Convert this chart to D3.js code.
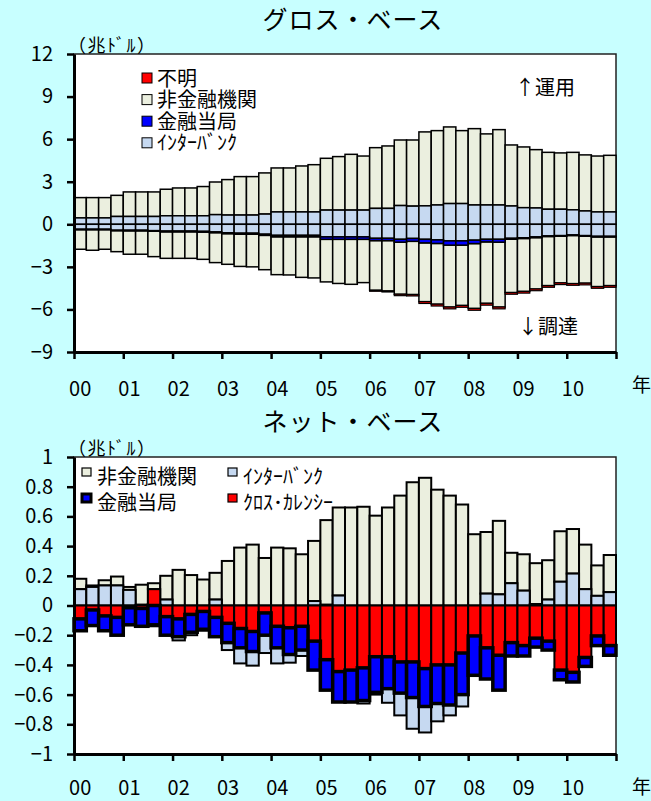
<!DOCTYPE html>
<html>
<head>
<meta charset="utf-8">
<script src="https://cdn.jsdelivr.net/npm/d3@7"></script>
<style>
  html, body { margin: 0; padding: 0; background: #c8ffff; }
  svg { display: block; }
  text { font-family: "Noto Sans CJK JP", "Noto Sans", sans-serif; fill: #000; }
</style>
</head>
<body>
<svg id="chart" width="651" height="801"></svg>
<script>
// ---- categories: quarterly, 2000Q1 .. 2010Q4 ----
const years = ["00", "01", "02", "03", "04", "05", "06", "07", "08", "09", "10"];
const quarters = years.flatMap(y => ["Q1", "Q2", "Q3", "Q4"].map(q => y + q));

// ---- gross basis (trillion USD): assets (+) and liabilities (-) ----
const grossAssetInterbank = [0.45,0.45,0.45,0.55,0.55,0.55,0.55,0.6,0.6,0.6,0.6,0.68,0.65,0.65,0.65,0.72,0.87,0.87,0.87,0.87,1.0,1.0,1.0,1.0,1.12,1.12,1.32,1.28,1.3,1.36,1.46,1.46,1.36,1.36,1.36,1.29,1.17,1.15,1.06,1.06,1.02,0.94,0.87,0.87];
const grossAssetNonFin = [1.43,1.43,1.43,1.49,1.73,1.73,1.73,1.87,1.96,1.96,2.06,2.30,2.50,2.71,2.71,2.90,3.10,3.10,3.24,3.33,3.65,3.77,3.93,3.81,4.28,4.40,4.62,4.66,5.21,5.24,5.40,5.14,5.38,5.01,5.31,4.30,4.28,4.11,4.01,3.97,4.05,3.95,3.94,3.99];
const grossLiabInterbank = [-0.35,-0.35,-0.35,-0.42,-0.42,-0.42,-0.45,-0.48,-0.48,-0.48,-0.5,-0.54,-0.6,-0.63,-0.63,-0.7,-0.78,-0.78,-0.78,-0.78,-0.89,-0.89,-0.89,-0.89,-0.99,-0.99,-1.06,-1.0,-1.06,-1.1,-1.17,-1.17,-1.12,-1.06,-1.06,-0.99,-0.95,-0.89,-0.82,-0.8,-0.75,-0.8,-0.85,-0.85];
const grossLiabAuthority = [-0.03,-0.03,-0.03,-0.03,-0.04,-0.04,-0.04,-0.05,-0.05,-0.05,-0.05,-0.05,-0.06,-0.07,-0.07,-0.08,-0.1,-0.1,-0.1,-0.1,-0.17,-0.17,-0.17,-0.17,-0.16,-0.16,-0.2,-0.2,-0.25,-0.25,-0.3,-0.3,-0.24,-0.18,-0.2,-0.06,-0.05,-0.05,-0.04,-0.04,-0.04,-0.04,-0.04,-0.04];
const grossLiabNonFin = [-1.38,-1.45,-1.38,-1.48,-1.65,-1.65,-1.79,-1.87,-1.87,-1.87,-1.92,-2.11,-2.16,-2.27,-2.30,-2.42,-2.67,-2.69,-2.86,-2.90,-3.00,-3.11,-3.17,-3.05,-3.50,-3.55,-3.67,-3.75,-4.14,-4.28,-4.36,-4.25,-4.57,-4.33,-4.57,-3.76,-3.73,-3.62,-3.46,-3.29,-3.39,-3.31,-3.50,-3.43];
const grossLiabUnknown = [0,0,0,0,0,0,0,0,0,0,0,0,0,0,0,0,0,0,0,0,0,0,0,0,-0.07,-0.07,-0.1,-0.1,-0.13,-0.13,-0.13,-0.13,-0.13,-0.13,-0.13,-0.12,-0.12,-0.12,-0.12,-0.12,-0.12,-0.12,-0.12,-0.12];

// ---- net basis (trillion USD) ----
const netCross = [-0.09,-0.03,-0.07,-0.08,-0.015,-0.02,0.11,-0.075,-0.09,-0.06,-0.04,-0.08,-0.12,-0.155,-0.175,-0.05,-0.14,-0.15,-0.14,-0.24,-0.365,-0.445,-0.435,-0.42,-0.345,-0.345,-0.38,-0.38,-0.425,-0.4,-0.4,-0.32,-0.205,-0.285,-0.335,-0.25,-0.27,-0.22,-0.24,-0.435,-0.45,-0.35,-0.205,-0.27];
const netAuthority = [-0.08,-0.105,-0.1,-0.12,-0.115,-0.12,-0.13,-0.125,-0.12,-0.12,-0.12,-0.13,-0.13,-0.13,-0.135,-0.15,-0.145,-0.18,-0.16,-0.195,-0.205,-0.205,-0.215,-0.22,-0.24,-0.215,-0.21,-0.24,-0.255,-0.26,-0.27,-0.28,-0.265,-0.21,-0.235,-0.09,-0.07,-0.06,-0.06,-0.065,-0.065,-0.06,-0.065,-0.065];
const netInterbank = [0.11,0.125,0.135,0.135,0.105,0.005,-0.01,0.04,-0.025,-0.02,-0.01,0.04,-0.05,-0.105,-0.095,-0.12,-0.105,-0.055,-0.04,0.03,0.005,0.067,0,-0.02,-0.015,-0.095,-0.15,-0.21,-0.175,-0.12,-0.07,-0.08,0,0.08,0.075,0.15,0.1,0.01,0.04,0.16,0.215,0.11,0.065,0.09];
const netNonFin = [0.07,0.01,0.035,0.06,0.02,0.135,0.04,0.16,0.24,0.205,0.175,0.18,0.30,0.39,0.41,0.32,0.39,0.385,0.345,0.405,0.57,0.593,0.66,0.665,0.605,0.66,0.74,0.83,0.86,0.78,0.74,0.68,0.48,0.415,0.495,0.205,0.245,0.275,0.265,0.34,0.3,0.3,0.205,0.25];

// ---- tick labels ----
const grossTicks = [12, 9, 6, 3, 0, -3, -6, -9];
const netTicks = [1, 0.8, 0.6, 0.4, 0.2, 0, -0.2, -0.4, -0.6, -0.8, -1];

const COL = { nonfin: "#ebefdf", interbank: "#c6d9f1", authority: "#0000ff", red: "#ff0000" };

const svg = d3.select("#chart");
const L = 74, R = 616;

function drawPanel(cfg) {
  const g = svg.append("g");
  const x = d3.scaleBand().domain(quarters).range([L, R]).padding(0);
  const y = d3.scaleLinear().domain(cfg.domain).range([cfg.bottom, cfg.top]);

  // plot area
  g.append("rect")
    .attr("x", L).attr("y", cfg.top)
    .attr("width", R - L).attr("height", cfg.bottom - cfg.top)
    .attr("fill", "#fff").attr("stroke", "#222").attr("stroke-width", 1.5);

  // stacked bars (positives and negatives stacked separately)
  const rows = quarters.map((q, i) => {
    const r = { q };
    cfg.series.forEach(s => { r[s.key] = s.values[i]; });
    return r;
  });
  const layers = d3.stack()
    .keys(cfg.series.map(s => s.key))
    .offset(d3.stackOffsetDiverging)(rows);
  const byKey = {};
  layers.forEach(l => { byKey[l.key] = l; });

  cfg.drawOrder.forEach(key => {
    const s = cfg.series.find(t => t.key === key);
    const layer = byKey[key];
    g.append("g").selectAll("rect")
      .data(layer.filter(d => d[1] !== d[0]))
      .join("rect")
      .attr("x", d => x(d.data.q))
      .attr("width", x.bandwidth())
      .attr("y", d => y(d[1]))
      .attr("height", d => y(d[0]) - y(d[1]))
      .attr("fill", s.fill)
      .attr("stroke", "#000")
      .attr("stroke-width", s.sw);
  });

  // y axis
  const yAxis = g.append("g").attr("transform", `translate(${L},0)`)
    .call(d3.axisLeft(y).tickValues(cfg.ticks).tickFormat(d3.format("~g"))
      .tickSize(7).tickSizeOuter(0).tickPadding(14));
  yAxis.select(".domain").attr("stroke", "#000").attr("stroke-width", 3);
  yAxis.selectAll(".tick line").attr("stroke", "#000").attr("stroke-width", 2.5);
  yAxis.selectAll("text").attr("font-size", 20).attr("fill", "#000");

  // x axis: year boundaries
  const xb = d3.scaleLinear().domain([0, quarters.length]).range([L, R]);
  const xAxis = g.append("g").attr("transform", `translate(0,${cfg.bottom})`)
    .call(d3.axisBottom(xb).tickValues(d3.range(0, quarters.length + 1, 4))
      .tickFormat("").tickSize(7).tickSizeOuter(0));
  xAxis.select(".domain").attr("stroke", "#000").attr("stroke-width", 3);
  xAxis.selectAll(".tick line").attr("stroke", "#000").attr("stroke-width", 2.5);

  // x axis: year labels under the first quarter
  const xl = g.append("g").attr("transform", `translate(0,${cfg.bottom})`)
    .call(d3.axisBottom(x).tickValues(quarters.filter(q => q.endsWith("Q1")))
      .tickFormat(q => q.slice(0, 2)).tickSize(0).tickPadding(cfg.labelPad));
  xl.select(".domain").remove();
  xl.selectAll("text").attr("font-size", 20).attr("fill", "#000");

  // 年
  g.append("text").attr("x", 632).attr("y", cfg.bottom + cfg.nenDy)
    .attr("font-size", 19).text("年");

  // unit
  g.append("text").attr("x", 68).attr("y", cfg.top - 2)
    .attr("font-size", 18).attr("letter-spacing", 1.5).text("（兆ﾄﾞﾙ）");

  // title
  g.append("text").attr("x", 353).attr("y", cfg.titleY)
    .attr("text-anchor", "middle").attr("font-size", 25)
    .attr("letter-spacing", 1).text(cfg.title);

  return { x, y, g };
}

// ---- gross panel ----
const gross = drawPanel({
  top: 54, bottom: 352, domain: [-9, 12], ticks: grossTicks,
  title: "グロス・ベース", titleY: 29, nenDy: 40, labelPad: 30,
  series: [
    { key: "ibA", values: grossAssetInterbank, fill: COL.interbank, sw: 1.5 },
    { key: "ibL", values: grossLiabInterbank, fill: COL.interbank, sw: 1.5 },
    { key: "auL", values: grossLiabAuthority, fill: COL.authority, sw: 1.5 },
    { key: "nfA", values: grossAssetNonFin, fill: COL.nonfin, sw: 1.5 },
    { key: "nfL", values: grossLiabNonFin, fill: COL.nonfin, sw: 1.5 },
    { key: "unL", values: grossLiabUnknown, fill: COL.red, sw: 1.2 }
  ],
  drawOrder: ["nfA", "nfL", "ibA", "ibL", "unL", "auL"]
});

// gross legend
const grossLegend = [
  { label: "不明", fill: COL.red },
  { label: "非金融機関", fill: COL.nonfin },
  { label: "金融当局", fill: COL.authority },
  { label: "ｲﾝﾀｰﾊﾞﾝｸ", fill: COL.interbank }
];
const gl = gross.g.append("g");
grossLegend.forEach((d, i) => {
  const cy = 78 + i * 21.6;
  gl.append("rect").attr("x", 142).attr("y", cy - 5).attr("width", 10).attr("height", 10)
    .attr("fill", d.fill).attr("stroke", "#000").attr("stroke-width", 1);
  gl.append("text").attr("x", 157).attr("y", cy + 7.5).attr("font-size", 20).text(d.label);
});
gross.g.append("text").attr("x", 515).attr("y", 95).attr("font-size", 20).text("↑運用");
gross.g.append("text").attr("x", 518).attr("y", 334).attr("font-size", 20).text("↓調達");

// ---- net panel ----
const net = drawPanel({
  top: 457, bottom: 754, domain: [-1, 1], ticks: netTicks,
  title: "ネット・ベース", titleY: 431, nenDy: 40, labelPad: 27,
  series: [
    { key: "cross", values: netCross, fill: COL.red, sw: 2 },
    { key: "auth", values: netAuthority, fill: COL.authority, sw: 3.5 },
    { key: "ib", values: netInterbank, fill: COL.interbank, sw: 2 },
    { key: "nf", values: netNonFin, fill: COL.nonfin, sw: 2 }
  ],
  drawOrder: ["nf", "ib", "cross", "auth"]
});

// net legend (two columns)
const netLegend = [
  { label: "非金融機関", fill: COL.nonfin, x: 82, y: 476, sw: 1.2 },
  { label: "ｲﾝﾀｰﾊﾞﾝｸ", fill: COL.interbank, x: 228, y: 476, sw: 1.2 },
  { label: "金融当局", fill: COL.authority, x: 82, y: 502, sw: 3 },
  { label: "ｸﾛｽ･ｶﾚﾝｼｰ", fill: COL.red, x: 228, y: 502, sw: 1.2 }
];
const nl = net.g.append("g");
netLegend.forEach(d => {
  nl.append("rect").attr("x", d.x).attr("y", d.y - 8).attr("width", 9).attr("height", 8)
    .attr("fill", d.fill).attr("stroke", "#000").attr("stroke-width", d.sw);
  nl.append("text").attr("x", d.x + 15).attr("y", d.y + 7.5).attr("font-size", 20).text(d.label);
});
</script>
</body>
</html>
